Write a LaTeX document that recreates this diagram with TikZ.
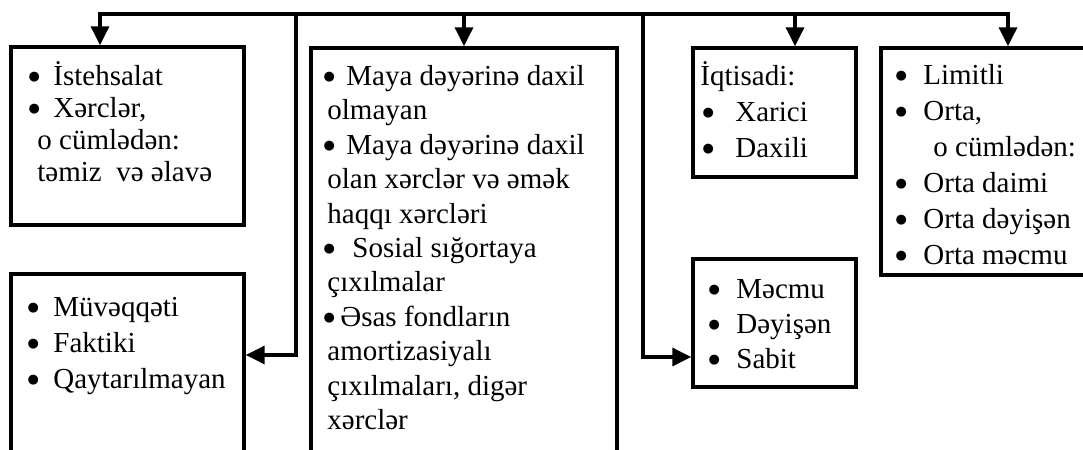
\documentclass[tikz,border=0pt]{standalone}
\usepackage{fontspec}
\setmainfont{Liberation Serif}
\newfontfamily\symf{DejaVu Sans}
\usetikzlibrary{arrows.meta,fit}
\newcommand\fl{\rule{0pt}{14pt}}
\newcommand\bu{\makebox[5pt][c]{\raisebox{2.6pt}{\fontsize{6.5}{6.5}\symf ●}}}
\begin{document}
\begin{tikzpicture}[x=0.5pt,y=-0.5pt,
  box/.style={draw,line width=1.7pt,inner sep=0pt},
  txt/.style={anchor=north west,inner sep=0pt,align=left,text=black},
  arr/.style={line width=1.7pt,-{Triangle[length=9.5pt,width=9pt]}},
  arrs/.style={line width=1.7pt,{Triangle[length=9.5pt,width=9pt]}-{Triangle[length=9.5pt,width=9pt]}}]
\useasboundingbox (0,0) rectangle (1083,450);
\clip (0,0) rectangle (1083,450);
% boxes
\node[box,fit={(11,47) (244,225)}] (A) {};
\node[box,fit={(311,48) (617,480)}] (B) {};
\node[box,fit={(693,48) (856,177)}] (C) {};
\node[box,fit={(11,274) (244,480)}] (D) {};
\node[box,fit={(693,259) (856,387)}] (E) {};
\node[box,fit={(881,48) (1110,275)}] (F) {};
% texts
\node[txt,font={\fontsize{14.5}{16}\selectfont}] (tA) at (29,57)
  {\fl\bu\hspace{7pt}İstehsalat\\
   \bu\hspace{7pt}Xərclər,\\
   \hspace{4pt}o cümlədən:\\
   \hspace{4pt}təmiz\ \ və əlavə};
\node[txt,font={\fontsize{14.5}{17.2}\selectfont}] (tB) at (324,57)
  {\fl\bu\hspace{6pt}Maya dəyərinə daxil\\
   \hspace{1.5pt}olmayan\\
   \bu\hspace{6pt}Maya dəyərinə daxil\\
   \hspace{1.5pt}olan xərclər və əmək\\
   \hspace{1.5pt}haqqı xərcləri\\
   \bu\hspace{9pt}Sosial sığortaya\\
   \hspace{1.5pt}çıxılmalar\\
   \bu\hspace{3pt}Əsas fondların\\
   \hspace{1.5pt}amortizasiyalı\\
   \hspace{1.5pt}çıxılmaları, digər\\
   \hspace{1.5pt}xərclər};
\node[txt,font={\fontsize{14.5}{18}\selectfont}] (tC) at (700,57)
  {\fl İqtisadi:\\
   \hspace{1.5pt}\bu\hspace{11pt}Xarici\\
   \hspace{1.5pt}\bu\hspace{11pt}Daxili};
\node[txt,font={\fontsize{14.5}{18}\selectfont}] (tD) at (28,288)
  {\fl\bu\hspace{7.5pt}Müvəqqəti\\
   \bu\hspace{7.5pt}Faktiki\\
   \bu\hspace{7.5pt}Qaytarılmayan};
\node[txt,font={\fontsize{14.5}{17.5}\selectfont}] (tE) at (709,270)
  {\fl\bu\hspace{8.5pt}Məcmu\\
   \bu\hspace{8.5pt}Dəyişən\\
   \bu\hspace{8.5pt}Sabit};
\node[txt,font={\fontsize{14.5}{18}\selectfont}] (tF) at (896,56.5)
  {\fl\bu\hspace{8.5pt}Limitli\\
   \bu\hspace{8.5pt}Orta,\\
   \hspace{18.5pt}o cümlədən:\\
   \bu\hspace{8.5pt}Orta daimi\\
   \bu\hspace{8.5pt}Orta dəyişən\\
   \bu\hspace{8.5pt}Orta məcmu};
% connectors
\coordinate (busL) at (100,14);
\coordinate (busR) at (1008,14);
\coordinate (jB) at (464,14);
\coordinate (jC) at (795,14);
\coordinate (jD) at (296,14);
\coordinate (jE) at (643,14);
\coordinate (kD) at (296,355);
\coordinate (kE) at (643,357);
\draw[arrs] (A.north -| busL) -- (busL) -- (busR) -- (busR |- F.north);
\draw[arr] (jB) -- (jB |- B.north);
\draw[arr] (jC) -- (jC |- C.north);
\draw[arr] (jD) -- (kD) -- (kD -| D.east);
\draw[arr] (jE) -- (kE) -- (kE -| E.west);
\end{tikzpicture}
\end{document}
